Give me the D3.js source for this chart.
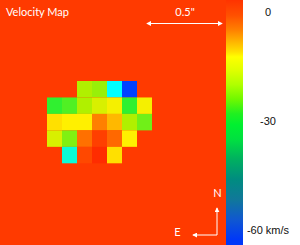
<!DOCTYPE html>
<html>
<head>
<meta charset="utf-8">
<title>Velocity Map</title>
<script src="https://cdn.jsdelivr.net/npm/d3@7"></script>
<style>
 body { margin: 0; background: #fff; }
 svg { display: block; font-family: Lato, "DejaVu Sans", sans-serif; }
 .lbl { fill: #111; font-size: 11px; }
 .wt { fill: #fff; font-size: 11px; }
</style>
</head>
<body>
<script>
var width = 300, height = 245;

// velocity per pixel (km/s), rows top to bottom, null = no data
var velocity = [
  [null, null, -20, -21.5, -38, -60, null],
  [-28, -26, -20, -16, -13, -28, -13],
  [-11, -12, -12, -4.7, -8.5, -20, -24],
  [-16, -23, -3.3, 2, -2.7, -12, null],
  [null, -36, 0, 4.5, -11, null, null]
];
var firstCol = 3, firstRow = 5, gridSize = 15;
var bgValue = 3;

// colour of the pixels
var cellValues = [6, 3, 0, -6, -12, -20, -28, -38, -60];
var cellColors = ['#ff1e00', '#ff3a00', '#ff4800', '#ff9000', '#fff000', '#b0f000', '#30f030', '#00ffff', '#0040ff'];

// colour bar as drawn
var barValues = [3.2, -1, -5, -8, -11, -12.4, -16, -20, -24, -28, -31, -35, -40.5, -46, -51.5, -57, -62.5];
var barColors = ['#ff3300', '#ff5000', '#ff8000', '#ffb000', '#ffe000', '#ffff00', '#e0ff00', '#b0ff00', '#70f800', '#20f020', '#00f030', '#00e040', '#00b060', '#008c80', '#10789a', '#1058d0', '#0038f8'];
var barTicks = [0, -30, -60];

var svg = d3.select('body').append('svg')
  .attr('width', width)
  .attr('height', height);

var x = d3.scaleBand().domain(d3.range(gridSize)).range([2, 227]);
var y = d3.scaleBand().domain(d3.range(gridSize)).range([-1.3, 245.6]);
var color = d3.scaleLinear().domain(cellValues).range(cellColors).clamp(true);

var map = svg.append('g');
map.append('rect')
  .attr('width', 226).attr('height', height)
  .attr('fill', color(bgValue));

var cells = [];
velocity.forEach(function (row, r) {
  row.forEach(function (v, c) {
    if (v !== null) cells.push({row: r + firstRow, col: c + firstCol, v: v});
  });
});

map.selectAll('.cell')
  .data(cells)
  .enter().append('rect')
  .attr('class', 'cell')
  .attr('x', d => x(d.col))
  .attr('y', d => y(d.row))
  .attr('width', x.bandwidth())
  .attr('height', y.bandwidth())
  .attr('fill', d => color(d.v));

// colour bar
var barY = d3.scaleLinear().domain([3.2, -64]).range([0, height]);
var defs = svg.append('defs');
var grad = defs.append('linearGradient')
  .attr('id', 'bar')
  .attr('x1', 0).attr('y1', 0).attr('x2', 0).attr('y2', 1);
grad.selectAll('stop')
  .data(barValues)
  .enter().append('stop')
  .attr('offset', d => barY(d) / height)
  .attr('stop-color', (d, i) => barColors[i]);

svg.append('rect')
  .attr('x', 226).attr('y', 0)
  .attr('width', 17).attr('height', height)
  .attr('fill', 'url(#bar)');

var axis = d3.axisRight(barY)
  .tickValues(barTicks)
  .tickSize(0)
  .tickPadding(0)
  .tickFormat(d => d === -60 ? '-60 km/s' : String(d).replace('\u2212', '-'));
var ax = svg.append('g')
  .attr('transform', 'translate(268,0)')
  .call(axis);
ax.select('.domain').remove();
ax.selectAll('text')
  .attr('class', 'lbl')
  .attr('fill', null)
  .attr('font-size', null)
  .attr('font-family', null)
  .attr('text-anchor', 'middle');

// arrow heads
defs.append('marker')
  .attr('id', 'head')
  .attr('viewBox', '0 0 6 6')
  .attr('refX', 5).attr('refY', 3)
  .attr('markerWidth', 5).attr('markerHeight', 5)
  .attr('markerUnits', 'userSpaceOnUse')
  .attr('orient', 'auto-start-reverse')
  .append('path')
  .attr('d', 'M0,0 L6,3 L0,6 z')
  .attr('fill', '#fff');

svg.append('text').attr('class', 'wt')
  .attr('x', 6).attr('y', 16)
  .text('Velocity Map');

// scale bar
svg.append('text').attr('class', 'wt')
  .attr('x', 185).attr('y', 16)
  .attr('text-anchor', 'middle')
  .text('0.5"');
svg.append('line')
  .attr('x1', 147).attr('y1', 23.5).attr('x2', 222).attr('y2', 23.5)
  .attr('stroke', '#fff').attr('stroke-width', 1)
  .attr('marker-start', 'url(#head)')
  .attr('marker-end', 'url(#head)');

// compass
svg.append('path')
  .attr('d', 'M217,208 L217,235 L193,235')
  .attr('fill', 'none')
  .attr('stroke', '#fff').attr('stroke-width', 1)
  .attr('marker-start', 'url(#head)')
  .attr('marker-end', 'url(#head)');
svg.append('text').attr('class', 'wt')
  .attr('x', 217.5).attr('y', 197)
  .attr('text-anchor', 'middle')
  .text('N');
svg.append('text').attr('class', 'wt')
  .attr('x', 177.5).attr('y', 236)
  .attr('text-anchor', 'middle')
  .text('E');
</script>
</body>
</html>
